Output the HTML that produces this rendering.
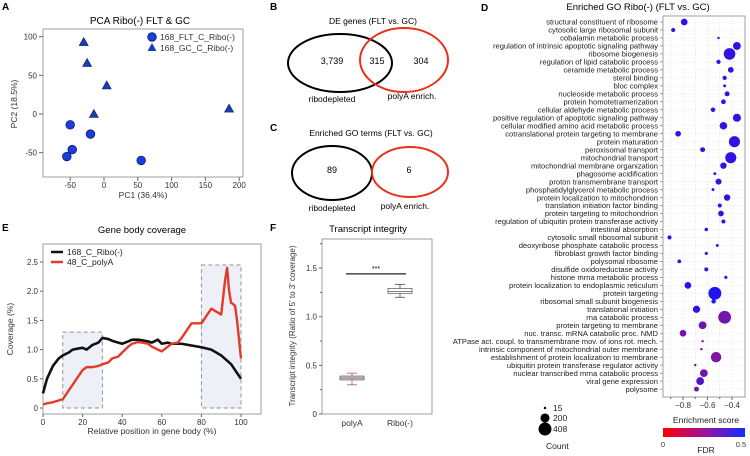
<!DOCTYPE html>
<html><head><meta charset="utf-8">
<style>
html,body{margin:0;padding:0;background:#fff;}
svg{display:block;font-family:"Liberation Sans",Arial,sans-serif;}
</style></head>
<body>
<svg id="fig" width="750" height="456" viewBox="0 0 750 456" xmlns="http://www.w3.org/2000/svg">
<defs>
<linearGradient id="fdrgrad" x1="0" x2="1" y1="0" y2="0">
<stop offset="0" stop-color="#ff0000"/><stop offset="0.5" stop-color="#a0109a"/><stop offset="1" stop-color="#1030ff"/>
</linearGradient>
</defs>
<text x="2" y="10" font-size="10" font-weight="bold">A</text>
<text x="270" y="10" font-size="10" font-weight="bold">B</text>
<text x="270" y="131" font-size="10" font-weight="bold">C</text>
<text x="481" y="11" font-size="10" font-weight="bold">D</text>
<text x="2" y="231" font-size="10" font-weight="bold">E</text>
<text x="270" y="231" font-size="10" font-weight="bold">F</text>

<g>
<text x="373" y="24" font-size="8.5" text-anchor="middle">DE genes (FLT vs. GC)</text>
<ellipse cx="340" cy="63" rx="52" ry="29" fill="none" stroke="#000" stroke-width="2"/>
<ellipse cx="404" cy="60" rx="44" ry="32" fill="none" stroke="#e8321e" stroke-width="2"/>
<text x="332" y="64" font-size="9" text-anchor="middle">3,739</text>
<text x="377" y="64" font-size="9" text-anchor="middle">315</text>
<text x="421" y="64" font-size="9" text-anchor="middle">304</text>
<text x="332" y="102" font-size="8.5" text-anchor="middle">ribodepleted</text>
<text x="412" y="99" font-size="8.5" text-anchor="middle">polyA enrich.</text>
</g>
<g>
<text x="371" y="136" font-size="8.5" text-anchor="middle">Enriched GO terms (FLT vs. GC)</text>
<ellipse cx="332" cy="173" rx="40" ry="27" fill="none" stroke="#000" stroke-width="2"/>
<ellipse cx="410" cy="172" rx="38" ry="25" fill="none" stroke="#e8321e" stroke-width="2"/>
<text x="332" y="173" font-size="9" text-anchor="middle">89</text>
<text x="409" y="173" font-size="9" text-anchor="middle">6</text>
<text x="332" y="211" font-size="8.5" text-anchor="middle">ribodepleted</text>
<text x="405" y="209" font-size="8.5" text-anchor="middle">polyA enrich.</text>
</g>
<g id="gA"></g><g id="gD"></g><g id="gE"></g><g id="gF"></g>
</svg>
<script>
const pcaCircleX=[-55,-47,-50,-20,55];
const pcaCircleY=[-55,-46,-14,-26,-60];
const pcaTriX=[-30,-25,4,-15,185];
const pcaTriY=[93,66,37,0,7];
const pcaXTicks=[-50,0,50,100,150,200];
const pcaYTicks=[-50,0,50,100];

const goTerms=["structural constituent of ribosome","cytosolic large ribosomal subunit","cobalamin metabolic process","regulation of intrinsic apoptotic signaling pathway","ribosome biogenesis","regulation of lipid catabolic process","ceramide metabolic process","sterol binding","bloc complex","nucleoside metabolic process","protein homotetramerization","cellular aldehyde metabolic process","positive regulation of apoptotic signaling pathway","cellular modified amino acid metabolic process","cotranslational protein targeting to membrane","protein maturation","peroxisomal transport","mitochondrial transport","mitochondrial membrane organization","phagosome acidification","proton transmembrane transport","phosphatidylglycerol metabolic process","protein localization to mitochondrion","translation initiation factor binding","protein targeting to mitochondrion","regulation of ubiquitin protein transferase activity","intestinal absorption","cytosolic small ribosomal subunit","deoxyribose phosphate catabolic process","fibroblast growth factor binding","polysomal ribosome","disulfide oxidoreductase activity","histone mrna metabolic process","protein localization to endoplasmic reticulum","protein targeting","ribosomal small subunit biogenesis","translational initiation","rna catabolic process","protein targeting to membrane","nuc. transc. mRNA catabolic proc. NMD","ATPase act. coupl. to transmembrane mov. of ions rot. mech.","intrinsic component of mitochondrial outer membrane","establishment of protein localization to membrane","ubiquitin protein transferase regulator activity","nuclear transcribed mrna catabolic process","viral gene expression","polysome"];
const goScore=[-0.79,-0.88,-0.51,-0.36,-0.42,-0.51,-0.41,-0.46,-0.46,-0.44,-0.47,-0.555,-0.36,-0.47,-0.84,-0.38,-0.64,-0.41,-0.47,-0.54,-0.51,-0.555,-0.44,-0.5,-0.49,-0.47,-0.61,-0.91,-0.52,-0.61,-0.83,-0.61,-0.45,-0.76,-0.54,-0.55,-0.69,-0.46,-0.64,-0.8,-0.64,-0.65,-0.53,-0.7,-0.63,-0.66,-0.69];
const goCount=[110,40,15,150,330,45,80,45,20,60,55,50,160,140,80,300,60,300,100,20,90,20,100,40,80,40,30,40,20,25,35,40,25,110,408,50,130,400,150,110,15,15,270,15,150,150,60];
const goFdr=[0.46,0.45,0.45,0.45,0.44,0.45,0.45,0.44,0.45,0.45,0.45,0.44,0.44,0.44,0.44,0.44,0.44,0.44,0.44,0.44,0.44,0.44,0.44,0.44,0.44,0.44,0.44,0.44,0.43,0.43,0.43,0.43,0.4,0.47,0.47,0.46,0.46,0.3,0.3,0.3,0.28,0.28,0.27,0.27,0.3,0.38,0.28];
const goXTicks=[-0.8,-0.6,-0.4];

const covPos=[0,2,5,8,10,13,15,18,20,22,25,28,30,33,35,38,40,43,45,48,50,53,55,58,60,63,65,68,70,75,80,85,90,95,100];
const covRibo=[0.25,0.5,0.72,0.85,0.9,0.95,1.0,1.02,1.03,1.0,1.08,1.12,1.2,1.18,1.15,1.12,1.1,1.14,1.17,1.17,1.16,1.14,1.12,1.17,1.1,1.12,1.1,1.1,1.1,1.07,1.04,1.0,0.9,0.75,0.5];
const covPolyA=[0.06,0.08,0.1,0.13,0.15,0.3,0.4,0.55,0.65,0.7,0.7,0.72,0.75,0.78,0.85,0.88,0.95,1.05,1.1,1.13,1.12,1.1,1.05,1.0,0.97,1.05,1.1,1.12,1.2,1.45,1.45,1.7,1.55,2.2,0.85];
const covPosPeak=[90,91,92,93,94,95,96,97,98,100];
const covPolyAPeak=[1.6,1.9,2.2,2.4,2.0,1.8,1.78,1.75,1.5,0.85];
const covXTicks=[0,20,40,60,80,100];
const covYTicks=[0,0.5,1.0,1.5,2.0,2.5];

const tiCats=["polyA","Ribo(-)"];
const tiMedian=[0.37,1.26];
const tiQ1=[0.35,1.24];
const tiQ3=[0.39,1.29];
const tiMin=[0.30,1.20];
const tiMax=[0.42,1.33];
const tiYTicks=[0,0.5,1.0,1.5];

const NS="http://www.w3.org/2000/svg";
function mk(parent,tag,attrs,txt){const e=document.createElementNS(NS,tag);for(const k in attrs)e.setAttribute(k,attrs[k]);if(txt!==undefined)e.textContent=txt;parent.appendChild(e);return e;}
function fmt(v){return (Math.round(v*10)/10).toString();}

(function(){
const g=document.getElementById('gA');
const L=43,R=243,T=29,B=177;
const sx=v=>104+v*0.676, sy=v=>114-v*0.7733;
mk(g,'text',{x:140,y:24,'font-size':10,'text-anchor':'middle',},'PCA Ribo(-) FLT & GC');
const fr=mk(g,'rect',{x:L,y:T,width:R-L,height:B-T,fill:'none',stroke:'#888','stroke-width':0.8});

pcaXTicks.forEach(t=>{const x=sx(t);mk(g,'line',{x1:x,x2:x,y1:B,y2:B+4,stroke:'#666'});
 const tx=mk(g,'text',{x:x,y:B+11,'font-size':8,'text-anchor':'middle',fill:'#333'},t);
 });
pcaYTicks.forEach(t=>{const y=sy(t);mk(g,'line',{x1:L-4,x2:L,y1:y,y2:y,stroke:'#666'});
 const tx=mk(g,'text',{x:L-6,y:y+3,'font-size':8,'text-anchor':'end',fill:'#333'},t);
 });
const xl=mk(g,'text',{x:143,y:198,'font-size':8.5,'text-anchor':'middle',fill:'#333'},'PC1 (36.4%)');

const yl=mk(g,'text',{x:0,y:0,'font-size':8.5,'text-anchor':'middle',fill:'#333',transform:'translate(17,104) rotate(-90)'},'PC2 (18.5%)');

pcaCircleX.forEach((v,i)=>{const c=mk(g,'circle',{cx:sx(v),cy:sy(pcaCircleY[i]),r:4.3,fill:'#1a3fd8',stroke:'#0a1a80','stroke-width':0.8});
 });
pcaTriX.forEach((v,i)=>{const x=sx(v),y=sy(pcaTriY[i]);const p=mk(g,'polygon',{points:`${x},${y-4.5} ${x-4.5},${y+3.5} ${x+4.5},${y+3.5}`,fill:'#1a3fb0',stroke:'#0a1a60','stroke-width':0.6});
 });
const lg=mk(g,'g',{});
mk(lg,'circle',{cx:152,cy:37,r:4.3,fill:'#1a3fd8',stroke:'#0a1a80','stroke-width':0.8});
mk(lg,'text',{x:160,y:40,'font-size':8.5,fill:'#333'},'168_FLT_C_Ribo(-)');
mk(lg,'polygon',{points:'152,43 147.5,51 156.5,51',fill:'#1a3fb0'});
mk(lg,'text',{x:160,y:51,'font-size':8.5,fill:'#333'},'168_GC_C_Ribo(-)');
})();

(function(){
const g=document.getElementById('gD');
const L=663,R=745,T=16,B=397;
const sx=v=>683+(v+0.8)*122.5, sy=i=>22+i*7.98;
mk(g,'text',{x:638,y:10,'font-size':9.5,'text-anchor':'middle',},'Enriched GO Ribo(-) (FLT vs. GC)');
const fr=mk(g,'rect',{x:L,y:T,width:R-L,height:B-T,fill:'none',stroke:'#888','stroke-width':0.8});

[-0.9,-0.8,-0.7,-0.6,-0.5,-0.4].forEach(t=>{mk(g,'line',{x1:sx(t),x2:sx(t),y1:T,y2:B,stroke:'#ddd','stroke-dasharray':'1.5 2','stroke-width':0.6});});
goTerms.forEach((t,i)=>{const y=sy(i);
 mk(g,'line',{x1:L,x2:R,y1:y,y2:y,stroke:'#e2e2e2','stroke-dasharray':'1.5 2','stroke-width':0.6});
 mk(g,'line',{x1:L-3,x2:L,y1:y,y2:y,stroke:'#666','stroke-width':0.6});
 const tx=mk(g,'text',{x:L-5,y:y+2.7,'font-size':7.6,'text-anchor':'end',fill:'#222'},t);
 
 const f=Math.max(0,Math.min(1,goFdr[i]/0.5));
 const c=mk(g,'circle',{cx:sx(goScore[i]),cy:y,r:Math.sqrt(goCount[i])*0.32,fill:`rgb(${Math.round(255*(1-f)+20*f)},20,${Math.round(60+190*f)})`,stroke:'none'});
 });
goXTicks.forEach(t=>{const x=sx(t);mk(g,'line',{x1:x,x2:x,y1:B,y2:B+3,stroke:'#666'});
 const tx=mk(g,'text',{x:x,y:B+11,'font-size':8,'text-anchor':'middle',fill:'#333'},fmt(t).replace('-','\u2212'));
 });
[-0.9,-0.7,-0.5].forEach(t=>mk(g,'line',{x1:sx(t),x2:sx(t),y1:B,y2:B+2,stroke:'#666'}));
const xl=mk(g,'text',{x:706,y:423,'font-size':8.5,'text-anchor':'middle',fill:'#222'},'Enrichment score');

const sl=mk(g,'g',{});
[[15,408],[200,418],[408,429]].forEach(([n,y])=>{mk(sl,'circle',{cx:545,cy:y,r:Math.sqrt(n)*0.32,fill:'#000'});mk(sl,'text',{x:553,y:y+3,'font-size':8.5,fill:'#222'},n);});
mk(sl,'text',{x:546,y:449,'font-size':8.5,fill:'#222'},'Count');
const fl=mk(g,'g',{});
mk(fl,'rect',{x:663,y:428,width:82,height:9,fill:'url(#fdrgrad)'});
mk(fl,'text',{x:663,y:447,'font-size':7.5,'text-anchor':'middle',fill:'#333'},'0');
mk(fl,'text',{x:741,y:447,'font-size':7.5,'text-anchor':'middle',fill:'#333'},'0.5');
mk(fl,'text',{x:706,y:453,'font-size':8.5,'text-anchor':'middle',fill:'#222'},'FDR');
})();

(function(){
const g=document.getElementById('gE');
const L=43,R=261,T=244,B=414;
const sx=v=>43+v*1.98, sy=v=>408-v*58.4;
mk(g,'text',{x:142,y:233,'font-size':9.5,'text-anchor':'middle',},'Gene body coverage');
[[10,30,1.3],[80,100,2.45]].forEach(([a,b,h])=>{const r=mk(g,'rect',{x:sx(a),y:sy(h),width:sx(b)-sx(a),height:sy(0)-sy(h),fill:'#eef0f8',stroke:'#888','stroke-dasharray':'4 3','stroke-width':0.9});
 });
const fr=mk(g,'rect',{x:L,y:T,width:R-L,height:B-T,fill:'none',stroke:'#888','stroke-width':0.8});

covXTicks.forEach(t=>{const x=sx(t);mk(g,'line',{x1:x,x2:x,y1:B,y2:B+3,stroke:'#666'});
 const tx=mk(g,'text',{x:x,y:B+11,'font-size':8,'text-anchor':'middle',fill:'#333'},t);
 });
covYTicks.forEach(t=>{const y=sy(t);mk(g,'line',{x1:L-3,x2:L,y1:y,y2:y,stroke:'#666'});
 const tx=mk(g,'text',{x:L-5,y:y+3,'font-size':8,'text-anchor':'end',fill:'#333'},t===0?'0':t.toFixed(1));
 });
const xl=mk(g,'text',{x:152,y:434,'font-size':8.5,'text-anchor':'middle',fill:'#333'},'Relative position in gene body (%)');

const yl=mk(g,'text',{x:0,y:0,'font-size':8.5,'text-anchor':'middle',fill:'#333',transform:'translate(13,329) rotate(-90)'},'Coverage (%)');

const pr=covPos.map((p,i)=>`${sx(p)},${sy(covRibo[i])}`).join(' ');
const l1=mk(g,'polyline',{points:pr,fill:'none',stroke:'#111','stroke-width':2.6,'stroke-linejoin':'round'});

const pts=[];covPos.forEach((p,i)=>{if(p<90)pts.push([p,covPolyA[i]]);});covPosPeak.forEach((p,i)=>pts.push([p,covPolyAPeak[i]]));
const l2=mk(g,'polyline',{points:pts.map(([p,v])=>`${sx(p)},${sy(v)}`).join(' '),fill:'none',stroke:'#e33a2a','stroke-width':2.4,'stroke-linejoin':'round'});

const lg=mk(g,'g',{});
mk(lg,'line',{x1:51,x2:63,y1:252,y2:252,stroke:'#111','stroke-width':2.5});
mk(lg,'text',{x:67,y:255,'font-size':8.5,fill:'#222'},'168_C_Ribo(-)');
mk(lg,'line',{x1:51,x2:63,y1:262,y2:262,stroke:'#e33a2a','stroke-width':2.5});
mk(lg,'text',{x:67,y:265,'font-size':8.5,fill:'#222'},'48_C_polyA');
})();

(function(){
const g=document.getElementById('gF');
const L=322,R=432,T=239,B=414;
const sy=v=>414-v*97.3;
const cx=[352,400];
mk(g,'text',{x:368,y:232,'font-size':9.5,'text-anchor':'middle',},'Transcript integrity');
const fr=mk(g,'rect',{x:L,y:T,width:R-L,height:B-T,fill:'none',stroke:'#888','stroke-width':0.8});

tiYTicks.forEach(t=>{const y=sy(t);mk(g,'line',{x1:L-3,x2:L,y1:y,y2:y,stroke:'#666'});
 const tx=mk(g,'text',{x:L-5,y:y+3,'font-size':8,'text-anchor':'end',fill:'#333'},t===0?'0':t.toFixed(1));
 });
[0.25,0.75,1.25,1.75].forEach(t=>mk(g,'line',{x1:L-2,x2:L,y1:sy(t),y2:sy(t),stroke:'#666'}));
const yl=mk(g,'text',{x:0,y:0,'font-size':8,'text-anchor':'middle',fill:'#333',transform:'translate(295,326) rotate(-90)'},"Transcript integrity (Ratio of 5' to 3' coverage)");

tiCats.forEach((c,i)=>{const x=cx[i],col=i===0?'#b04040':'#333';
 const bx=mk(g,'g',{});
 mk(bx,'line',{x1:x,x2:x,y1:sy(tiMin[i]),y2:sy(tiMax[i]),stroke:col,'stroke-width':0.7});
 mk(bx,'line',{x1:x-5,x2:x+5,y1:sy(tiMin[i]),y2:sy(tiMin[i]),stroke:col,'stroke-width':0.7});
 mk(bx,'line',{x1:x-5,x2:x+5,y1:sy(tiMax[i]),y2:sy(tiMax[i]),stroke:col,'stroke-width':0.7});
 mk(bx,'rect',{x:x-12,y:sy(tiQ3[i]),width:24,height:sy(tiQ1[i])-sy(tiQ3[i]),fill:i===0?'#e8d8d8':'#fff',stroke:'#555','stroke-width':0.7});
 mk(bx,'line',{x1:x-12,x2:x+12,y1:sy(tiMedian[i]),y2:sy(tiMedian[i]),stroke:'#555','stroke-width':0.8});
 const tx=mk(g,'text',{x:x,y:B+12,'font-size':8.5,'text-anchor':'middle',fill:'#333'},c);
 });
const sig=mk(g,'line',{x1:cx[0]-6,x2:cx[1]+6,y1:sy(1.44),y2:sy(1.44),stroke:'#222','stroke-width':1.2});

const st=mk(g,'text',{x:376,y:sy(1.44)-3,'font-size':7,'text-anchor':'middle'},'***');

})();
</script>
</body></html>
